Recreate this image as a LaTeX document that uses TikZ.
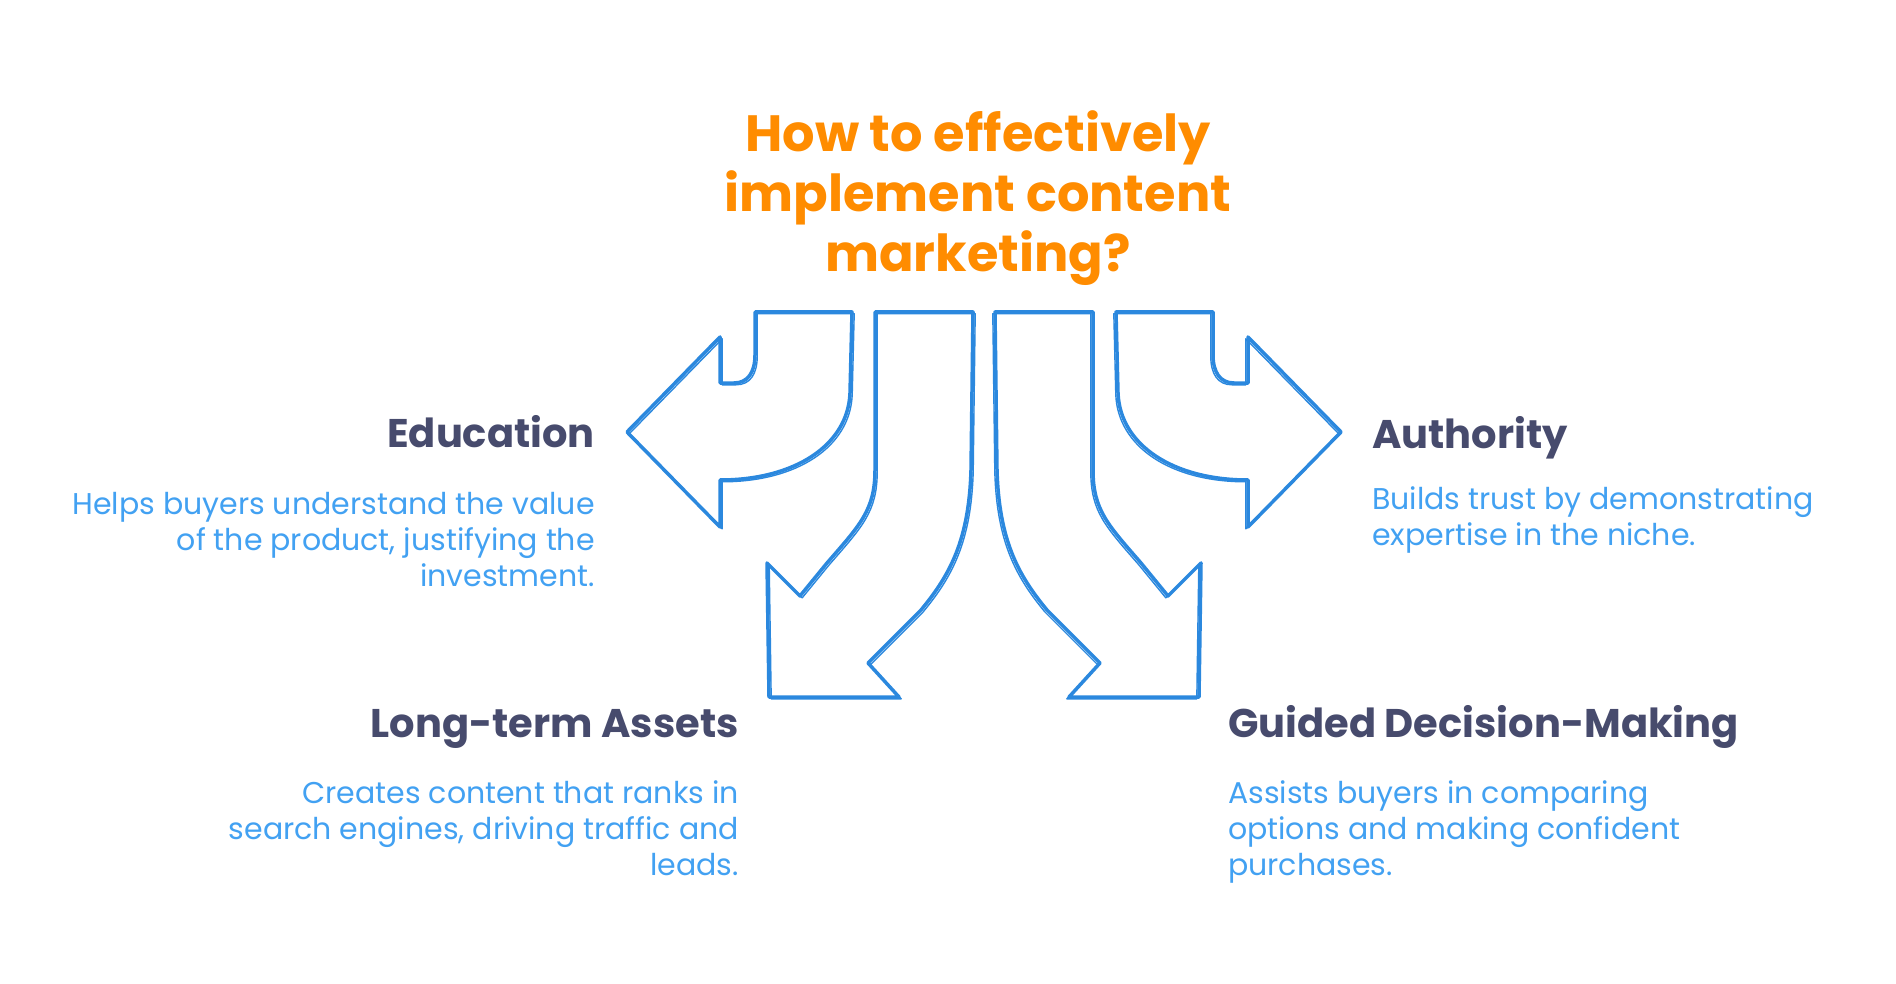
\documentclass[tikz,border=0pt]{standalone}
\usepackage{fontspec}
\setmainfont{Poppins}
\usetikzlibrary{positioning}
\definecolor{arrowblue}{HTML}{2B88DE}
\definecolor{headslate}{HTML}{474B6D}
\definecolor{descblue}{HTML}{42A1F2}
\definecolor{titleorange}{HTML}{FF8C00}
\tikzstyle{sketch}=[draw=arrowblue, line width=3.5pt, line join=round, line cap=round]
\tikzstyle{sketchtwo}=[draw=arrowblue, line width=1.4pt, line join=round, line cap=round, shift={(2.2,1.8)}]
\tikzstyle{head}=[inner sep=0pt, text=headslate, font=\fontsize{40}{46}\selectfont\bfseries]
\tikzstyle{desc}=[inner sep=0pt, text=descblue, font=\fontsize{30}{36}\selectfont]
\tikzstyle{question}=[inner sep=0pt, align=center, text=titleorange, font=\fontsize{51}{60}\selectfont\bfseries]
\newcommand{\arrowpair}[1]
{
  % arrow that turns aside
  \draw[#1] (755,312) -- (852,312) -- (850,393)
    .. controls (848,445) and (795,480) .. (720,480)
    -- (720,527) -- (627,432) -- (720,337) -- (720,383) -- (734,383)
    .. controls (748,383) and (755,372) .. (755,355) -- cycle;
  % arrow that goes on down
  \draw[#1] (875,312) -- (973,312) -- (971,470)
    .. controls (969,540) and (950,575) .. (921,610)
    -- (868,663) -- (899,697) -- (769,697) -- (767,563) -- (800,596) -- (827,563)
    .. controls (860,525) and (875,510) .. (875,470) -- cycle;
}

\begin{document}
\begin{tikzpicture}[x=1pt, y=-1pt]
	\useasboundingbox[fill=white] (0,0) rectangle (1896,984);

	% base of a multi-line node is its last line
	\node[question, anchor=base] (title) at (978,272) {How to effectively\\implement content\\marketing?};

	\arrowpair{sketch}
	\arrowpair{sketchtwo}
	\begin{scope}[shift={(1968,0)}, xscale=-1]
		\arrowpair{sketch}
		\arrowpair{sketchtwo}
	\end{scope}

	\node[head, anchor=base east] (edu) at (595,447) {Education};
	\node[desc, align=right, anchor=base east] (edudesc) at (595,586) {Helps buyers understand the value\\of the product, justifying the\\investment.};

	\node[head, anchor=base west] (auth) at (1372,448) {Authority};
	\node[desc, align=left, anchor=base west] (authdesc) at (1372,545) {Builds trust by demonstrating\\expertise in the niche.};

	\node[head, anchor=base east] (assets) at (739,737) {Long-term Assets};
	\node[desc, align=right, anchor=base east] (assetsdesc) at (739,875) {Creates content that ranks in\\search engines, driving traffic and\\leads.};

	\node[head, anchor=base west] (guided) at (1228,737) {Guided Decision-Making};
	\node[desc, align=left, anchor=base west] (guideddesc) at (1228,875) {Assists buyers in comparing\\options and making confident\\purchases.};
\end{tikzpicture}
\end{document}
